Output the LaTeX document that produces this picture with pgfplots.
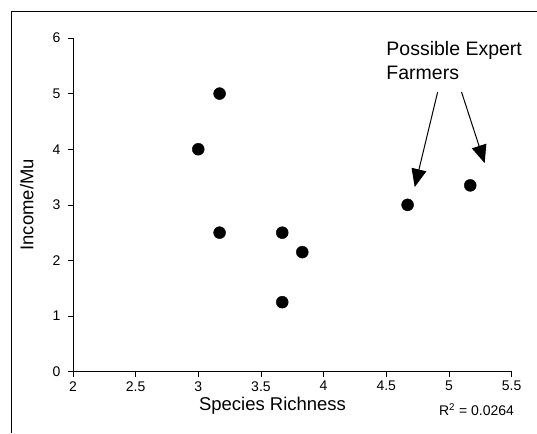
\documentclass[border=0pt]{standalone}
\usepackage{pgfplots}
\pgfplotsset{compat=1.18}
\usepackage{fontspec}
\setmainfont{Liberation Sans}
\usetikzlibrary{arrows.meta}

\begin{document}
\begin{tikzpicture}[x=1pt,y=1pt]
\begin{axis}[
  at={(0,0)}, anchor=origin,
  scale only axis,
  width=439pt, height=334pt,
  xmin=2, xmax=5.5, ymin=0, ymax=6,
  axis lines=left,
  axis line style={-, line width=0.6pt},
  xtick={2,2.5,...,5.5}, ytick={0,1,...,6},
  tick align=outside,
  major tick length=5pt,
  tick style={black, line width=0.6pt},
  tick label style={font=\fontsize{14}{16}\selectfont},
  /pgf/number format/assume math mode=true,
  xticklabel style={yshift=-1pt},
  yticklabel style={xshift=-4pt},
  xlabel={Species Richness},
  ylabel={Income/Mu},
  label style={font=\fontsize{18.5}{22}\selectfont},
  xlabel style={at={(axis description cs:0.455,0)}, anchor=north, yshift=-22pt},
  ylabel style={at={(axis description cs:0,0.5)}, anchor=south, yshift=36pt},
  clip=false,
]
\addplot[only marks, mark=*, mark size=6pt, black]
  coordinates {
    (3.00,4.00) (3.17,5.00) (3.17,2.50) (3.67,2.50)
    (3.83,2.15) (3.67,1.25) (4.67,3.00) (5.17,3.35)
  };
\node[anchor=west, align=left, font=\fontsize{19.5}{24}\selectfont, inner sep=0pt]
  at (axis cs:4.50,5.60) {Possible Expert\\Farmers};
\draw[line width=1pt, -{Triangle[length=18pt,width=15pt]}]
  (axis cs:4.91,5.03) -- (axis cs:4.727,3.32);
\draw[line width=1pt, -{Triangle[length=18pt,width=15pt]}]
  (axis cs:5.10,5.03) -- (axis cs:5.285,3.75);
\node[anchor=east, font=\fontsize{14}{16}\selectfont, inner sep=0pt]
  at (axis cs:5.52,-0.68) {R\textsuperscript{2} = 0.0264};
\end{axis}
\draw[line width=0.8pt] (-62,-61) -- (-62,361) -- (464,361);
\path (-73,-60) rectangle (464,372);
\end{tikzpicture}
\end{document}
